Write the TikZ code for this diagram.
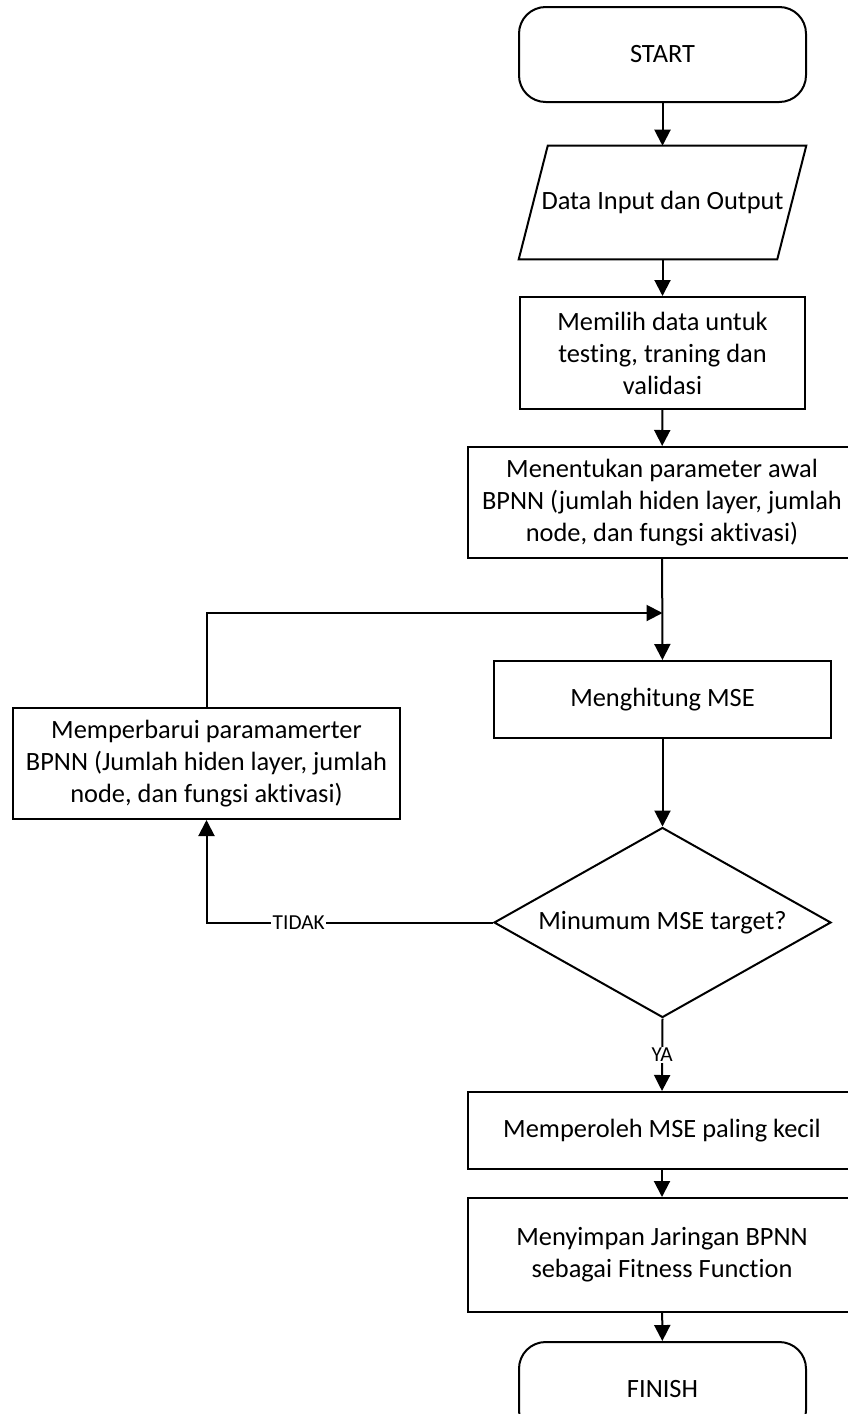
\documentclass[tikz,border=0pt]{standalone}
\usepackage{fontspec}
\setmainfont{Carlito}[Ligatures=NoCommon]
\usetikzlibrary{shapes.geometric,arrows.meta}

\tikzset{
  every node/.style={font=\fontsize{19.8}{24}\selectfont},
  flowline/.style={line width=1.5pt, draw=black},
  flowarrow/.style={flowline, -{Triangle[length=12pt,width=12pt]}},
  terminal/.style={draw, line width=1.5pt, rounded corners=20pt, minimum width=215.25pt, minimum height=71.25pt, inner sep=0pt},
  process/.style={draw, line width=1.5pt, rectangle, inner sep=0pt, align=center},
  iobox/.style={rectangle, inner sep=0pt, minimum width=215.25pt, minimum height=84.75pt},
  decision/.style={draw, line width=1.5pt, diamond, aspect=1.77, inner sep=0pt, minimum width=252.75pt, minimum height=142.5pt},
  branchlabel/.style={fill=white, inner sep=1pt, font=\fontsize{16}{18}\selectfont},
}

\begin{document}
\begin{tikzpicture}[x=0.75pt, y=-0.75pt]
  \useasboundingbox (0,0) rectangle (848,1414);
  \clip (0,0) rectangle (848,1414);

  % main column
  \node[terminal] (start) at (662.5,54.5) {START};
  \node[iobox] (data) at (662.5,202.5) {Data Input dan Output};
  \draw[line width=1.5pt] ([xshift=21.75pt]data.north west) -- (data.north east)
        -- ([xshift=-21.75pt]data.south east) -- (data.south west) -- cycle;
  \node[process, minimum width=213.75pt, minimum height=84pt] (pilih) at (662.5,353)
       {Memilih data untuk\\testing, traning dan\\validasi};
  \node[process, minimum width=291pt, minimum height=83.25pt] (tentukan) at (662,502.5)
       {Menentukan parameter awal\\BPNN (jumlah hiden layer, jumlah\\node, dan fungsi aktivasi)};
  \node[process, minimum width=252.75pt, minimum height=57.75pt] (hitung) at (662.5,699.5)
       {Menghitung MSE};
  \node[decision] (cek) at (662.5,922.5) {Minumum MSE target?};
  \node[process, minimum width=291pt, minimum height=57.75pt] (peroleh) at (662,1130.5)
       {Memperoleh MSE paling kecil};
  \node[process, minimum width=291pt, minimum height=85.5pt] (simpan) at (662,1255)
       {Menyimpan Jaringan BPNN\\sebagai Fitness Function};
  \node[terminal] (finish) at (662.5,1389.5) {FINISH};

  % update loop
  \node[process, minimum width=290.25pt, minimum height=83.25pt] (perbarui) at (206.5,763.5)
       {Memperbarui paramamerter\\BPNN (Jumlah hiden layer, jumlah\\node, dan fungsi aktivasi)};
  \coordinate (gabung) at (662.5,613);

  % connectors
  \draw[flowarrow] (start) -- (data);
  \draw[flowarrow] (data) -- (pilih);
  \draw[flowarrow] (pilih) -- (tentukan);
  \draw[flowarrow] (tentukan) -- (hitung);
  \draw[flowarrow] (hitung) -- (cek);
  \draw[flowarrow] (cek.south) -- node[branchlabel] {YA} (peroleh.north);
  \draw[flowarrow] (peroleh) -- (simpan);
  \draw[flowarrow] (simpan) -- (finish);
  \draw[flowarrow] (cek.west) -| node[branchlabel, pos=0.339] {TIDAK} (perbarui.south);
  \draw[flowarrow] (perbarui.north) |- (gabung);
\end{tikzpicture}
\end{document}
